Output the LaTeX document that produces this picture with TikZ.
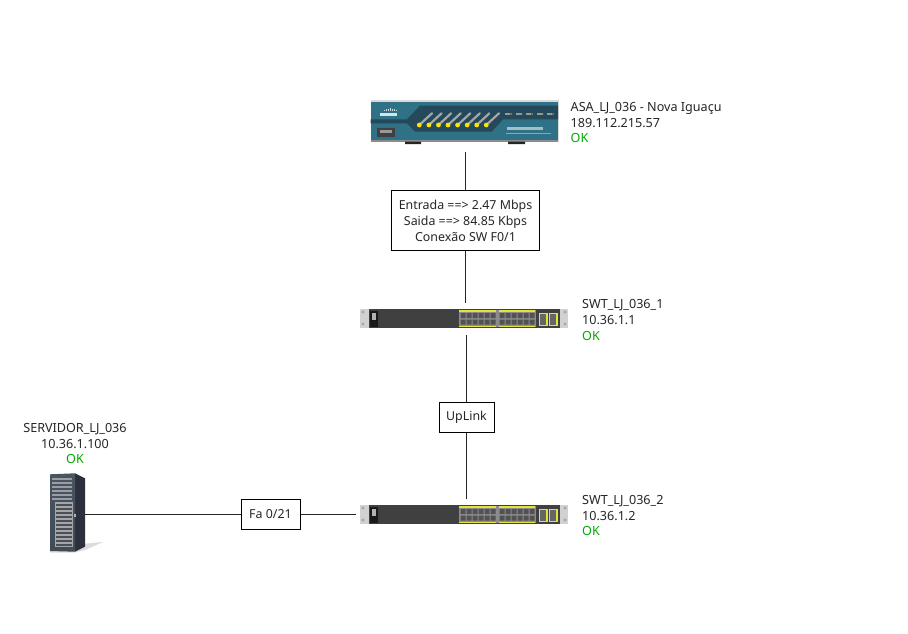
\documentclass[tikz,border=0pt]{standalone}
\usepackage{fontspec}
\setmainfont{Noto Sans}
\usetikzlibrary{calc}
\definecolor{okgreen}{HTML}{00A800}
\definecolor{asateal}{HTML}{2F7187}
\definecolor{asadark}{HTML}{23495A}
\definecolor{swyellow}{HTML}{E4E23C}
\definecolor{srvfront}{HTML}{5C6A7A}
\definecolor{srvside}{HTML}{2B303C}
\tikzset{
  x=1pt,y=-1pt,
  devtext/.style={inner sep=0pt,font=\fontsize{12.6}{15.7}\selectfont,text=black!85},
  linkbox/.style={draw=black,line width=1pt,fill=white,inner sep=0pt,align=center,font=\fontsize{12.4}{16}\selectfont,text=black!85},
  device/.style={inner sep=0pt,draw=none},
  link/.style={draw=black!85,line width=1.35pt},
  pics/switch/.style={code={
    \fill[black!18] (-105,-10) rectangle (103,9);
    \fill[black!35] (-102,-7) circle (1.6) (-102,5) circle (1.6) (100,-7) circle (1.6) (100,5) circle (1.6);
    \fill[black!75] (-96,-10) rectangle (95,9);
    \fill[black!90] (-95,-8) rectangle (-87,7.5);
    \fill[black!30] (-93,-6) rectangle (-89.5,1);
    \fill[black!45] (-6,-9) rectangle (71,8);
    \draw[swyellow,line width=1.5pt] (-6,-8) -- (31,-8) (33.5,-8) -- (70,-8) (-6,7.5) -- (31,7.5) (33.5,7.5) -- (70,7.5);
    \foreach \i in {0,...,5}{
      \fill[black!68] ({-4.5+6*\i},-6) rectangle ++(5,5) ({-4.5+6*\i},0.5) rectangle ++(5,5);
      \fill[black!68] ({34.5+6*\i},-6) rectangle ++(5,5) ({34.5+6*\i},0.5) rectangle ++(5,5);
    }
    \foreach \a in {74.5,84.5}{
      \fill[black!60] (\a,-5.5) rectangle ++(7.5,12);
      \draw[swyellow,line width=1.5pt] (\a,-5.5) rectangle ++(7.5,12);
    }
  }},
  pics/asa/.style={code={
    \fill[black!15] (-94.5,-22.5) rectangle (93.5,19.5);
    \fill[asateal] (-94,-20.5) rectangle (93,18);
    \fill[black!45] (-94,18) rectangle (93,19.5);
    \fill[black!85] (-60,19.5) rectangle (-44,22) (43,19.5) rectangle (60,22);
    \fill[asadark] (-94.3,-2.7) -- (-58,-2.7) -- (-45,-16.3) -- (93,-16.3) -- (93,-2.7) -- (38,-2.7) -- (26.7,9.7) -- (-50,9.7) -- (-58,1.3) -- (-94.3,1.3) -- cycle;
    % logo
    \foreach \k in {0,...,6}{\fill[white!75!asateal] ({-81+2*\k},{-14+abs(\k-3)*0.7}) rectangle ++(1,{3-abs(\k-3)*0.7});}
    \fill[white!80!asateal] (-85,-9) rectangle (-68,-6);
    % usb
    \fill[black!75] (-88,5.5) rectangle (-70,15);
    \fill[black!40] (-85,7.5) rectangle (-73,11);
    % leds
    \foreach \i in {0,...,7}{
      \draw[black!35,line width=2.2pt,line cap=round] ({-45.7+9.57*\i},3) -- ({-33+9.57*\i},-8.7);
      \fill[yellow!85!orange] ({-45.7+9.57*\i},3) circle (2.4);
    }
    \foreach \i in {0,...,4}{
      \fill[black!40] ({40+10.5*\i},-9.3) rectangle ++(5,2.6);
      \fill[yellow!55!black] ({46+10.5*\i},-8) circle (1);
    }
    \fill[white!55!asateal] (42,5) rectangle (78,7.5);
    \fill[white!40!asateal] (41,10.5) rectangle (86,12);
  }},
  pics/server/.style={code={
    \fill[black!35,opacity=.4] (-25,33) -- (28,28) -- (10,36) -- (0,38.5) -- (-25,38.5) -- cycle;
    \fill[srvside] (0,-40.7) -- (10,-35.7) -- (10,32.7) -- (0,37.7) -- cycle;
    \shade[top color=srvfront!80!black,bottom color=srvfront!70!black] (-25,-39.7) -- (0,-40.7) -- (0,37.7) -- (-25,37) -- cycle;
    \foreach \k in {0,...,5}{\fill[black!22,opacity=.65] (-23,{-36+4*\k}) rectangle (-3,{-34.2+4*\k});}
    \fill[black!35] (-20,-12) rectangle (-2.5,32.5);
    \foreach \k in {0,...,10}{\fill[srvside!85] (-19,{-10.5+4*\k}) rectangle (-3.5,{-8.5+4*\k});}
    \fill[black!30] (-1,0) rectangle (1,3);
  }}
}
\begin{document}
\begin{tikzpicture}
\useasboundingbox[fill=white] (0,0) rectangle (908,634);
% device artwork
\pic at (465,122) {asa};
\pic at (465,319) {switch};
\pic at (465,515) {switch};
\pic at (75,514) {server};
% invisible device nodes that end the connectors
\node[device,minimum width=190,minimum height=60] (asa) at (465.5,122) {};
\node[device,minimum width=218,minimum height=32] (sw1) at (465,319) {};
\node[device,minimum width=218,minimum height=32] (sw2) at (465,515) {};
\node[device,minimum width=20,minimum height=80] (srv) at (75,515) {};
% link labels
\node[linkbox,minimum width=148,minimum height=60] (traffic) at (465.5,220.5) {Entrada ==> 2.47 Mbps\\Saida ==> 84.85 Kbps\\Conexão SW F0/1};
\node[linkbox,minimum width=55,minimum height=30] (uplink) at (466.5,417.5) {UpLink};
\node[linkbox,minimum width=59,minimum height=30] (fa) at (270.5,514.5) {Fa 0/21};
% connectors
\draw[link] (asa) -- (traffic);
\draw[link] (traffic) -- (traffic|-sw1.north);
\draw[link] (uplink|-sw1.south) -- (uplink);
\draw[link] (uplink) -- (uplink|-sw2.north);
\draw[link] (srv.east|-fa.west) -- (fa);
\draw[link] (fa) -- (sw2.west|-fa.east);
% device labels
\node[devtext,anchor=west,align=left] (asatxt) at (570.5,122.5) {ASA\_LJ\_036 - Nova Iguaçu\\189.112.215.57\\\textcolor{okgreen}{OK}};
\node[devtext,anchor=west,align=left] (sw1txt) at (582,320) {SWT\_LJ\_036\_1\\10.36.1.1\\\textcolor{okgreen}{OK}};
\node[devtext,anchor=west,align=left] (sw2txt) at (582,515.5) {SWT\_LJ\_036\_2\\10.36.1.2\\\textcolor{okgreen}{OK}};
\node[devtext,align=center] (srvtxt) at (75,443.5) {SERVIDOR\_LJ\_036\\10.36.1.100\\\textcolor{okgreen}{OK}};
\end{tikzpicture}
\end{document}
